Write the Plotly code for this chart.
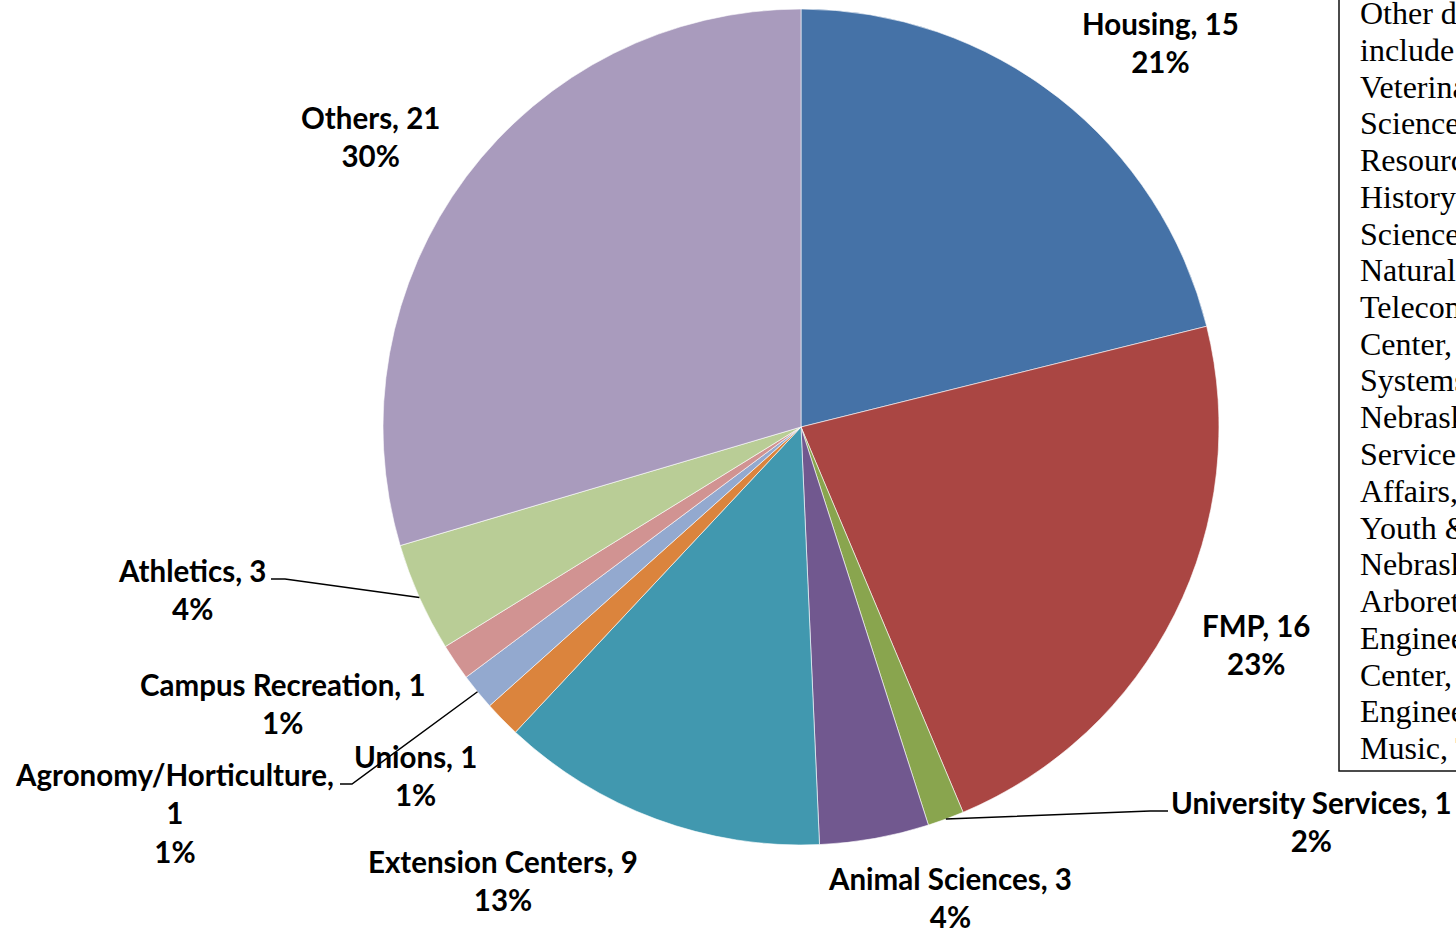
import math
import plotly.graph_objects as go

# ---- data ----
departments = ["Housing", "FMP", "University Services", "Animal Sciences",
               "Extension Centers", "Unions", "Agronomy/Horticulture",
               "Campus Recreation", "Athletics", "Others"]
counts = [15, 16, 1, 3, 9, 1, 1, 1, 3, 21]
pct_labels = ["21%", "23%", "2%", "4%", "13%", "1%", "1%", "1%", "4%", "30%"]
colors = ["#4572A7", "#AA4643", "#89A54E", "#71588F", "#4198AF",
          "#DB843D", "#93A9CF", "#D19392", "#B9CD96", "#A99BBD"]

note_lines = ["Other departments", "include", "Veterinary and Biomedical",
              "Sciences, Natural", "Resources, Natural", "History Museum,",
              "Sciences, Agricultural", "Natural Resources,", "Telecommunications",
              "Center, Information", "Systems, Agricultural", "Nebraska Extension",
              "Services, Student", "Affairs, 4-H", "Youth & Family,",
              "Nebraska Statewide", "Arboretum, Civil", "Engineering, Research",
              "Center, Electrical", "Engineering, School of", "Music, Theatre"]

W, H = 1456, 931
CX, CY, R = 801, 427, 418     # pie centre / radius in page pixels


def px(x):
    return x / W


def py(y):
    return 1 - y / H


fig = go.Figure(go.Pie(
    labels=departments, values=counts, sort=False, direction="clockwise",
    rotation=0, textinfo="none", hoverinfo="label+value+percent",
    marker=dict(colors=colors, line=dict(color="white", width=0.6)),
    domain=dict(x=[px(CX - R), px(CX + R)], y=[py(CY + R), py(CY - R)]),
    showlegend=False,
))

# label text positions (pixel centres of the label block)
label_pos = {
    "Housing": (1160, 42),
    "FMP": (1256, 644),
    "University Services": (1311, 821),
    "Animal Sciences": (950, 897),
    "Extension Centers": (503, 880),
    "Unions": (415, 775),
    "Agronomy/Horticulture": (174, 813),
    "Campus Recreation": (283, 703),
    "Athletics": (192, 589),
    "Others": (370, 136),
}

lab_font = dict(family="Lato", size=29.5, color="black")
annotations = []
for name, n, p in zip(departments, counts, pct_labels):
    if name == "Agronomy/Horticulture":
        txt = f"<b>{name},</b><br><b>{n}</b><br><b>{p}</b>"
    else:
        txt = f"<b>{name}, {n}</b><br><b>{p}</b>"
    x, y = label_pos[name]
    annotations.append(dict(x=px(x), y=py(y), xref="paper", yref="paper",
                            text=txt, showarrow=False, font=lab_font,
                            xanchor="center", yanchor="middle", align="center"))

# leader lines: from label end to pie edge at the slice's mid angle
total = sum(counts)
cum = 0
mid_pt = {}
for name, n in zip(departments, counts):
    a = (cum + n / 2) / total * 2 * math.pi
    mid_pt[name] = (CX + R * math.sin(a), CY - R * math.cos(a))
    cum += n

leaders = {
    "Athletics": [(271, 579), (285, 579)],
    "Agronomy/Horticulture": [(340, 784), (352, 784)],
    "University Services": [(1168, 811), (1150, 811)],
}
shapes = []
for name, pts in leaders.items():
    ex, ey = mid_pt[name]
    path = f"M {px(pts[0][0])},{py(pts[0][1])} L {px(pts[1][0])},{py(pts[1][1])} L {px(ex)},{py(ey)}"
    shapes.append(dict(type="path", path=path, xref="paper", yref="paper",
                       line=dict(color="black", width=1.5)))

# note box on the right (cut by page edge)
shapes.append(dict(type="rect", xref="paper", yref="paper",
                   x0=px(1339), x1=px(1600), y0=py(771), y1=py(-20),
                   line=dict(color="#111", width=1.5), fillcolor="rgba(0,0,0,0)"))
for i, line in enumerate(note_lines):
    annotations.append(dict(x=px(1358), y=py(13 + i * 36.75), xref="paper", yref="paper",
                            text=line, showarrow=False,
                            font=dict(family="Liberation Serif", size=32, color="black"),
                            xanchor="left", yanchor="middle", align="left"))

fig.update_layout(width=W, height=H, margin=dict(l=0, r=0, t=0, b=0),
                  paper_bgcolor="white", plot_bgcolor="white",
                  annotations=annotations, shapes=shapes)
fig.write_html("out.html", config={"displayModeBar": False},
               post_script="document.body.style.margin='0';"
                           "document.body.style.overflow='hidden';")
